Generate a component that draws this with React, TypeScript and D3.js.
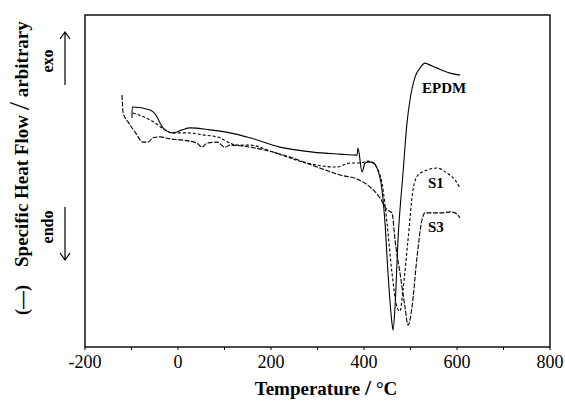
import React from "react";
import * as d3 from "d3";

// temperature (°C) and specific heat flow (arbitrary units)
const epdmTemp = [-99, -98.5, -96.8, -60, -45, -38.7, -28, -10.8, 8.6, 25.8, 68.8, 111.8, 154.8, 219.4, 290.3, 348.4, 384.9, 387.1, 395.7, 402.2, 408.6, 417.2, 428, 438.7, 445.2, 451.6, 460.2, 462.4, 466.7, 473.1, 483.9, 492.5, 498.9, 509.7, 520.4, 531.2, 537.6, 557, 585, 606.5];
const epdmFlow = [69.0, 72.3, 72.3, 71.4, 69.3, 67.5, 65.4, 64.5, 65.4, 66.0, 65.4, 64.5, 63.0, 60.2, 58.7, 58.1, 57.8, 59.9, 52.7, 55.4, 55.7, 55.7, 53.9, 47.3, 37.3, 22.3, 7.2, 5.1, 12.0, 32.2, 52.4, 67.5, 74.4, 81.3, 84.0, 85.5, 85.2, 84.0, 82.5, 81.9];

const s1Temp = [-97, -56, -24, -12.9, 19.4, 53.8, 90.3, 111.8, 126.9, 154.8, 204.3, 277.4, 341.9, 369.9, 391.4, 408.6, 419.4, 428, 438.7, 449.5, 460.2, 471, 477.4, 483.9, 494.6, 505.4, 516.1, 535.5, 557, 578.5, 595.7, 606.5];
const s1Flow = [70.5, 68.1, 65.1, 64.5, 64.5, 63.9, 63.0, 61.4, 60.8, 60.8, 58.7, 55.4, 54.2, 55.4, 55.4, 56.0, 55.4, 53.9, 49.4, 37.3, 22.3, 12.0, 10.8, 17.2, 32.2, 47.3, 51.8, 53.3, 53.9, 52.4, 50.3, 47.9];

const s3Temp = [-120.4, -118, -107.5, -92.5, -75.3, -64.5, -53.8, -38.7, -17.2, 10.8, 40.9, 51.6, 62.4, 83.9, 101, 111.8, 154.8, 240.9, 298.9, 348.4, 384.9, 412.9, 434.4, 449.5, 460.2, 466.7, 477.4, 488.2, 494.6, 503.2, 514, 524.7, 531.2, 541.9, 569.9, 585, 595.7, 606.5];
const s3Flow = [75.9, 70.5, 67.8, 64.8, 61.7, 61.7, 63.0, 63.3, 62.7, 62.3, 61.4, 60.2, 61.4, 61.7, 60.2, 60.8, 60.2, 57.2, 54.2, 51.8, 50.6, 48.2, 44.9, 41.3, 40.4, 32.2, 22.3, 12.0, 6.6, 12.0, 27.1, 38.3, 40.4, 40.4, 40.4, 40.7, 40.4, 38.9];

const majorTicks = [-200, 0, 200, 400, 600, 800];
const minorTicks = [-100, 100, 300, 500, 700];

const W = 565;
const H = 405;
const left = 85, right = 550, top = 15, bottom = 347;

export default function App() {
  const x = d3.scaleLinear().domain([-200, 800]).range([left, right]);
  const y = d3.scaleLinear().domain([0, 100]).range([bottom, top]);

  const line = d3
    .line<[number, number]>()
    .x(d => x(d[0]))
    .y(d => y(d[1]))
    .curve(d3.curveMonotoneX);

  const series = [
    { name: "EPDM", t: epdmTemp, v: epdmFlow, dash: "none" },
    { name: "S1", t: s1Temp, v: s1Flow, dash: "3 2" },
    { name: "S3", t: s3Temp, v: s3Flow, dash: "5 1.5" },
  ];

  const serif = "'Liberation Serif', 'Times New Roman', serif";

  return (
    <svg
      width={W}
      height={H}
      style={{ position: "absolute", left: 0, top: 0, background: "#fff" }}
      fontFamily={serif}
    >
      {/* frame */}
      <rect x={left} y={top} width={right - left} height={bottom - top} fill="none" stroke="#000" strokeWidth={1.4} />

      {/* x ticks */}
      {majorTicks.concat(minorTicks).map(t => (
        <line key={t} x1={x(t)} x2={x(t)} y1={bottom} y2={bottom + 3} stroke="#000" strokeWidth={1} />
      ))}
      {majorTicks.map(t => (
        <text key={"l" + t} x={x(t)} y={368} textAnchor="middle" fontSize={18}>
          {t}
        </text>
      ))}
      <text x={326} y={395} textAnchor="middle" fontSize={19} fontWeight="bold">
        Temperature <tspan fontSize={22}>/</tspan> °C
      </text>

      {/* curves */}
      {series.map(s => (
        <path
          key={s.name}
          d={line(d3.zip(s.t, s.v) as [number, number][]) || ""}
          fill="none"
          stroke="#000"
          strokeWidth={1.1}
          strokeDasharray={s.dash}
        />
      ))}
      <text x={422} y={93} fontSize={15} fontWeight="bold">EPDM</text>
      <text x={428} y={188} fontSize={15} fontWeight="bold">S1</text>
      <text x={428} y={232} fontSize={15} fontWeight="bold">S3</text>

      {/* y axis label */}
      <text transform="translate(28,267) rotate(-90)" textAnchor="start" fontSize={19} fontWeight="bold">
        Specific Heat Flow <tspan fontSize={30} fontWeight="normal" dy={1}>/</tspan>
        <tspan dy={-1}> arbitrary</tspan>
      </text>
      <text transform="translate(28,300) rotate(-90)" textAnchor="middle" fontSize={18} fontWeight="bold">
        (—)
      </text>
      <text transform="translate(53,61) rotate(-90)" textAnchor="middle" fontSize={16} fontWeight="bold">
        exo
      </text>
      <text transform="translate(53,227) rotate(-90)" textAnchor="middle" fontSize={16} fontWeight="bold">
        endo
      </text>
      <path d="M65,85 V32 M60,39 L65,32 L70,39" fill="none" stroke="#000" strokeWidth={1.2} />
      <path d="M65,207 V260 M60,253 L65,260 L70,253" fill="none" stroke="#000" strokeWidth={1.2} />
    </svg>
  );
}
